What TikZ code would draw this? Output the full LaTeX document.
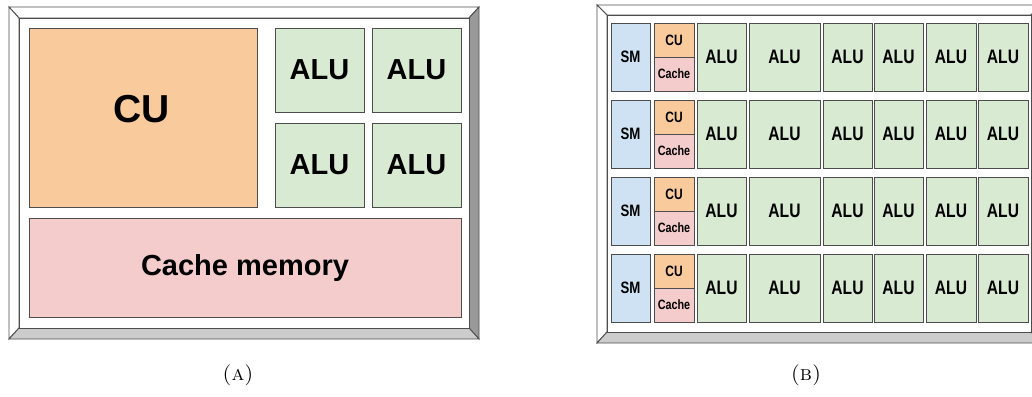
\documentclass[tikz,border=0pt]{standalone}
\usepackage{fontspec}
\usepackage{graphicx}
\newfontfamily\diagfont{Liberation Sans}

\definecolor{orangefill}{HTML}{F9CB9C}
\definecolor{greenfill}{HTML}{D9EAD3}
\definecolor{pinkfill}{HTML}{F4CCCC}
\definecolor{bluefill}{HTML}{CFE2F3}
\definecolor{edge}{HTML}{4D4D4D}
\definecolor{bevelright}{HTML}{999999}
\definecolor{bevelbottom}{HTML}{CCCCCC}

% rectangle node given by its corners: name, x1, y1, x2, y2, style, text
\newcommand\unitbox[7]{%
  \node[#6, minimum width={(#4-#2)*1pt}, minimum height={(#5-#3)*1pt}]
    (#1) at ({(#2+#4)/2},{(#3+#5)/2}) {#7};}
% narrow lettering used in the many-core panel
\newcommand\nb[1]{\scalebox{0.8}[1]{#1}}

\tikzset{
  block/.style={draw=edge, line width=0.9pt, rectangle, inner sep=0pt, outer sep=0pt},
  bigtext/.style={font={\diagfont\bfseries\fontsize{29}{29}\selectfont}},
  cutext/.style={font={\diagfont\bfseries\fontsize{39}{39}\selectfont}},
  alutext/.style={font={\diagfont\bfseries\fontsize{19.5}{19.5}\selectfont}},
  smtext/.style={font={\diagfont\bfseries\fontsize{16.5}{16.5}\selectfont}},
  cusmall/.style={font={\diagfont\bfseries\fontsize{15}{15}\selectfont}},
  tinytext/.style={font={\diagfont\bfseries\fontsize{13.5}{13.5}\selectfont}},
  bevel/.style={draw=edge, line width=0.9pt, line join=miter},
  caption/.style={font={\fontsize{21}{21}\selectfont}, inner sep=0pt},
}

\begin{document}
\begin{tikzpicture}[x=1pt, y=-1pt]
\useasboundingbox (0,0) rectangle (1032,396);

% ---------- (A) single core ----------
\coordinate (ao1) at (9,7);    \coordinate (ao2) at (479,7);
\coordinate (ao3) at (479,339); \coordinate (ao4) at (9,339);
\coordinate (ai1) at (19,18);  \coordinate (ai2) at (469,18);
\coordinate (ai3) at (469,328); \coordinate (ai4) at (19,328);
\filldraw[bevel, fill=white] (ao1) -- (ao2) -- (ai2) -- (ai1) -- cycle;
\filldraw[bevel, fill=white] (ao1) -- (ai1) -- (ai4) -- (ao4) -- cycle;
\filldraw[bevel, fill=bevelright] (ao2) -- (ao3) -- (ai3) -- (ai2) -- cycle;
\filldraw[bevel, fill=bevelbottom] (ao4) -- (ai4) -- (ai3) -- (ao3) -- cycle;
\filldraw[bevel, fill=white] (ai1) rectangle (ai3);

\unitbox{cu}{29}{28}{257}{207}{block, fill=orangefill}{}
\node[cutext, inner sep=0pt] (cutxt) at (142,109) {CU};
\unitbox{aluA1}{275}{28}{364}{112}{block, fill=greenfill, bigtext}{ALU}
\unitbox{aluA2}{372}{28}{461}{112}{block, fill=greenfill, bigtext}{ALU}
\unitbox{aluA3}{275}{123}{364}{207}{block, fill=greenfill, bigtext}{ALU}
\unitbox{aluA4}{372}{123}{461}{207}{block, fill=greenfill, bigtext}{ALU}
\unitbox{cachemem}{29}{218}{461}{317}{block, fill=pinkfill, bigtext}{Cache memory}

% ---------- (B) many cores ----------
\coordinate (bo1) at (597,5);    \coordinate (bo2) at (1041,5);
\coordinate (bo3) at (1041,343); \coordinate (bo4) at (597,343);
\coordinate (bi1) at (607,15);   \coordinate (bi2) at (1031,15);
\coordinate (bi3) at (1031,332); \coordinate (bi4) at (607,332);
\filldraw[bevel, fill=white] (bo1) -- (bo2) -- (bi2) -- (bi1) -- cycle;
\filldraw[bevel, fill=white] (bo1) -- (bi1) -- (bi4) -- (bo4) -- cycle;
\filldraw[bevel, fill=bevelright] (bo2) -- (bo3) -- (bi3) -- (bi2) -- cycle;
\filldraw[bevel, fill=bevelbottom] (bo4) -- (bi4) -- (bi3) -- (bo3) -- cycle;
\filldraw[bevel, fill=white] (bi1) rectangle (bi3);

\foreach \r in {1,...,4}{
  \pgfmathsetmacro\rtop{23+77*(\r-1)}
  \pgfmathsetmacro\rbot{\rtop+68}
  \pgfmathsetmacro\rmid{\rtop+34}
  \unitbox{sm\r}{611}{\rtop}{650}{\rbot}{block, fill=bluefill, smtext}{\nb{SM}}
  \unitbox{cuB\r}{654}{\rtop}{694}{\rmid}{block, fill=orangefill, cusmall}{\nb{CU}}
  \unitbox{caB\r}{654}{\rmid}{694}{\rbot}{block, fill=pinkfill, tinytext}{\nb{Cache}}
  \foreach \c/\xa/\xb in {1/697/746, 2/749/820, 3/823/872, 4/874/923, 5/926/976, 6/978/1028}{
    \unitbox{aluB\r-\c}{\xa}{\rtop}{\xb}{\rbot}{block, fill=greenfill, alutext}{\nb{ALU}}
  }
}

% ---------- captions ----------
\node[caption] (capA) at (238,375) {\textsc{(a)}};
\node[caption] (capB) at (806,375) {\textsc{(b)}};
\end{tikzpicture}
\end{document}
